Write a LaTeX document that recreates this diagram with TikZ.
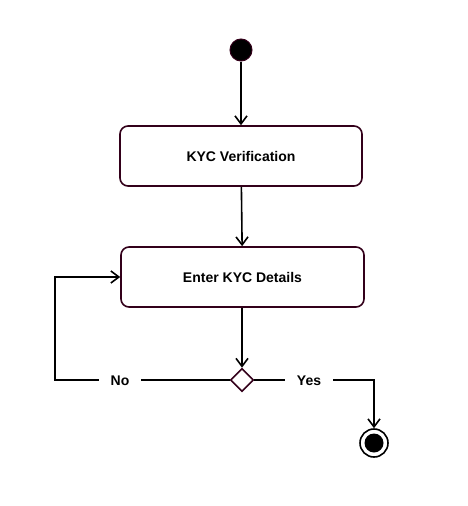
\documentclass[tikz,border=0pt]{standalone}
\usepackage{fontspec}
\setmainfont{Liberation Sans}
\usetikzlibrary{arrows.meta, shapes.geometric, positioning}
\definecolor{umlborder}{HTML}{33001A}
\definecolor{flowblack}{HTML}{000000}

\tikzset{
  action/.style={draw=umlborder, line width=1.6pt, rounded corners=8pt,
    minimum width=242pt, minimum height=60pt, fill=white,
    font=\fontsize{14}{16}\selectfont\bfseries},
  flow/.style={draw=flowblack, line width=1.6pt},
  branchlabel/.style={fill=white, inner xsep=12pt, inner ysep=4pt,
    font=\fontsize{14}{16}\selectfont\bfseries}
}

\begin{document}
\begin{tikzpicture}[x=1pt, y=-1pt, >={Straight Barb[length=8pt, width=12pt, line width=1.6pt]}]

% Canvas
\useasboundingbox (0,0) rectangle (468,506);

% Initial node
\node[circle, fill=black, draw=umlborder, line width=1pt,
      minimum size=22pt, inner sep=0pt] (start) at (241,50) {};

% Actions
\node[action] (verify) at (241,156) {KYC Verification};
\node[action, minimum width=243pt] (details) at (242.5,277) {Enter KYC Details};

% Decision
\node[diamond, draw=umlborder, line width=1.6pt, fill=white,
      minimum size=23pt, inner sep=0pt] (check) at (242,380) {};

% Final node
\node[circle, draw=black, line width=1.6pt, fill=white,
      minimum size=28pt, inner sep=0pt] (stop) at (374,443) {};
\fill[black] (stop) circle (9.5pt);

% Helper corners
\coordinate (noleft) at (55,380);
\coordinate (yesright) at (374,380);

% Flows
\draw[flow, ->] (start) -- (verify);
\draw[flow, ->] (verify) -- (details);
\draw[flow, ->] (details.south -| check) -- (check);
\draw[flow, ->] (check.west) -- (noleft) |- (details.west);
\draw[flow, ->] (check.east) -- (yesright) -- (stop);

% Branch labels
\node[branchlabel] (nolabel) at (120,381) {No};
\node[branchlabel] (yeslabel) at (309,381) {Yes};

\end{tikzpicture}
\end{document}
